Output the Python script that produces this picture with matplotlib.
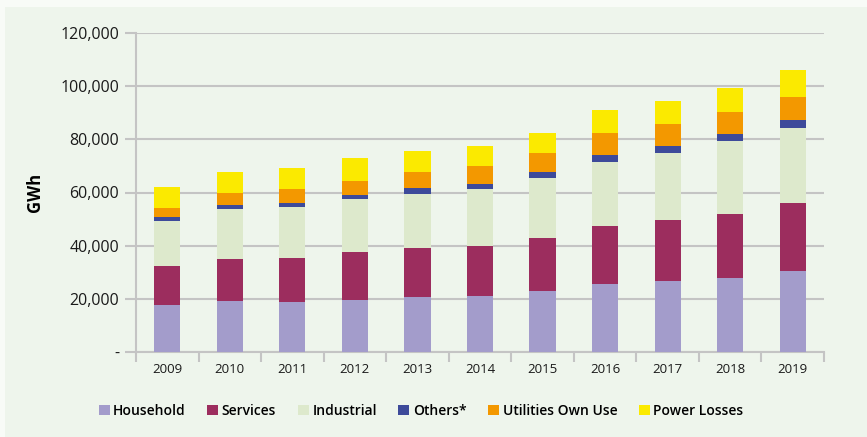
import matplotlib.pyplot as plt
from matplotlib.ticker import FuncFormatter, FixedLocator
import numpy as np

years = ["2009", "2010", "2011", "2012", "2013", "2014", "2015", "2016", "2017", "2018", "2019"]

household = [17700, 19200, 18800, 19600, 20700, 21100, 22950, 25600, 26700, 27850, 30450]
services = [14650, 15800, 16550, 18050, 18450, 18800, 19950, 21800, 22950, 24050, 25600]
industrial = [16950, 18800, 19200, 19950, 20300, 21450, 22550, 24100, 25200, 27450, 28200]
others = [1500, 1500, 1500, 1500, 2250, 1900, 2250, 2600, 2650, 2650, 3000]
utilities = [3400, 4500, 5250, 5250, 6000, 6750, 7150, 8300, 8250, 8300, 8650]
losses = [7900, 7900, 7900, 8650, 7900, 7550, 7550, 8650, 8650, 9000, 10150]

series = [
    ("Household", household, "#a39ccb"),
    ("Services", services, "#9c2d5e"),
    ("Industrial", industrial, "#dde9cc"),
    ("Others*", others, "#3d4a9a"),
    ("Utilities Own Use", utilities, "#f39800"),
    ("Power Losses", losses, "#fbea00"),
]

bg = "#eef5ec"
grid_c = "#c4c4c4"

fig = plt.figure(figsize=(8.67, 4.37), dpi=100, facecolor="#f8fbf7")
# panel background (slightly darker than the thin outer border)
fig.patches.append(plt.Rectangle((5 / 867, 0), 1, 1 - 7 / 437, transform=fig.transFigure,
                                 facecolor=bg, edgecolor="none", zorder=-10))

ax = fig.add_axes([136 / 867, 1 - 352 / 437, (824 - 136) / 867, (352 - 33) / 437])
ax.set_facecolor("none")

x = np.arange(len(years))
bottom = np.zeros(len(years))
for name, vals, col in series:
    ax.bar(x, vals, width=0.42, bottom=bottom, color=col, label=name, zorder=3)
    bottom += np.array(vals)

ax.set_xlim(-0.5, len(years) - 0.5)
ax.set_ylim(0, 120000)
ax.set_yticks(np.arange(0, 120001, 20000))
ax.yaxis.set_major_formatter(FuncFormatter(lambda v, p: "-" if v == 0 else f"{int(v):,}"))
ax.grid(axis="y", color=grid_c, linewidth=1.5, zorder=0)

ax.set_xticks(x)
ax.set_xticklabels(years, fontsize=9.5, family="Open Sans", color="#1a1a1a")
ax.tick_params(axis="x", which="major", length=0, pad=8)
ax.xaxis.set_minor_locator(FixedLocator(np.arange(-0.5, len(years), 1.0)))
ax.tick_params(axis="x", which="minor", length=7, width=1.5, color=grid_c)
ax.tick_params(axis="y", length=8, width=1.5, color=grid_c, pad=4)
for lab in ax.get_yticklabels():
    lab.set_fontsize(11.5)
    lab.set_family("Open Sans")
    lab.set_color("#1a1a1a")

for s in ["top", "right"]:
    ax.spines[s].set_visible(False)
for s in ["left", "bottom"]:
    ax.spines[s].set_color(grid_c)
    ax.spines[s].set_linewidth(1.5)

ax.set_ylabel("GWh", fontsize=12, fontweight="bold", family="Open Sans", labelpad=12)

handles, labels = ax.get_legend_handles_labels()
fig.legend(handles, labels, loc="center", bbox_to_anchor=(0.4856, 1 - 411 / 437), ncol=6,
           frameon=False, handlelength=0.8, handleheight=0.8, handletextpad=0.25,
           columnspacing=1.55, prop={"family": "Open Sans", "weight": "semibold", "size": 10})

fig.savefig("out.png", dpi=100, facecolor=fig.get_facecolor())
